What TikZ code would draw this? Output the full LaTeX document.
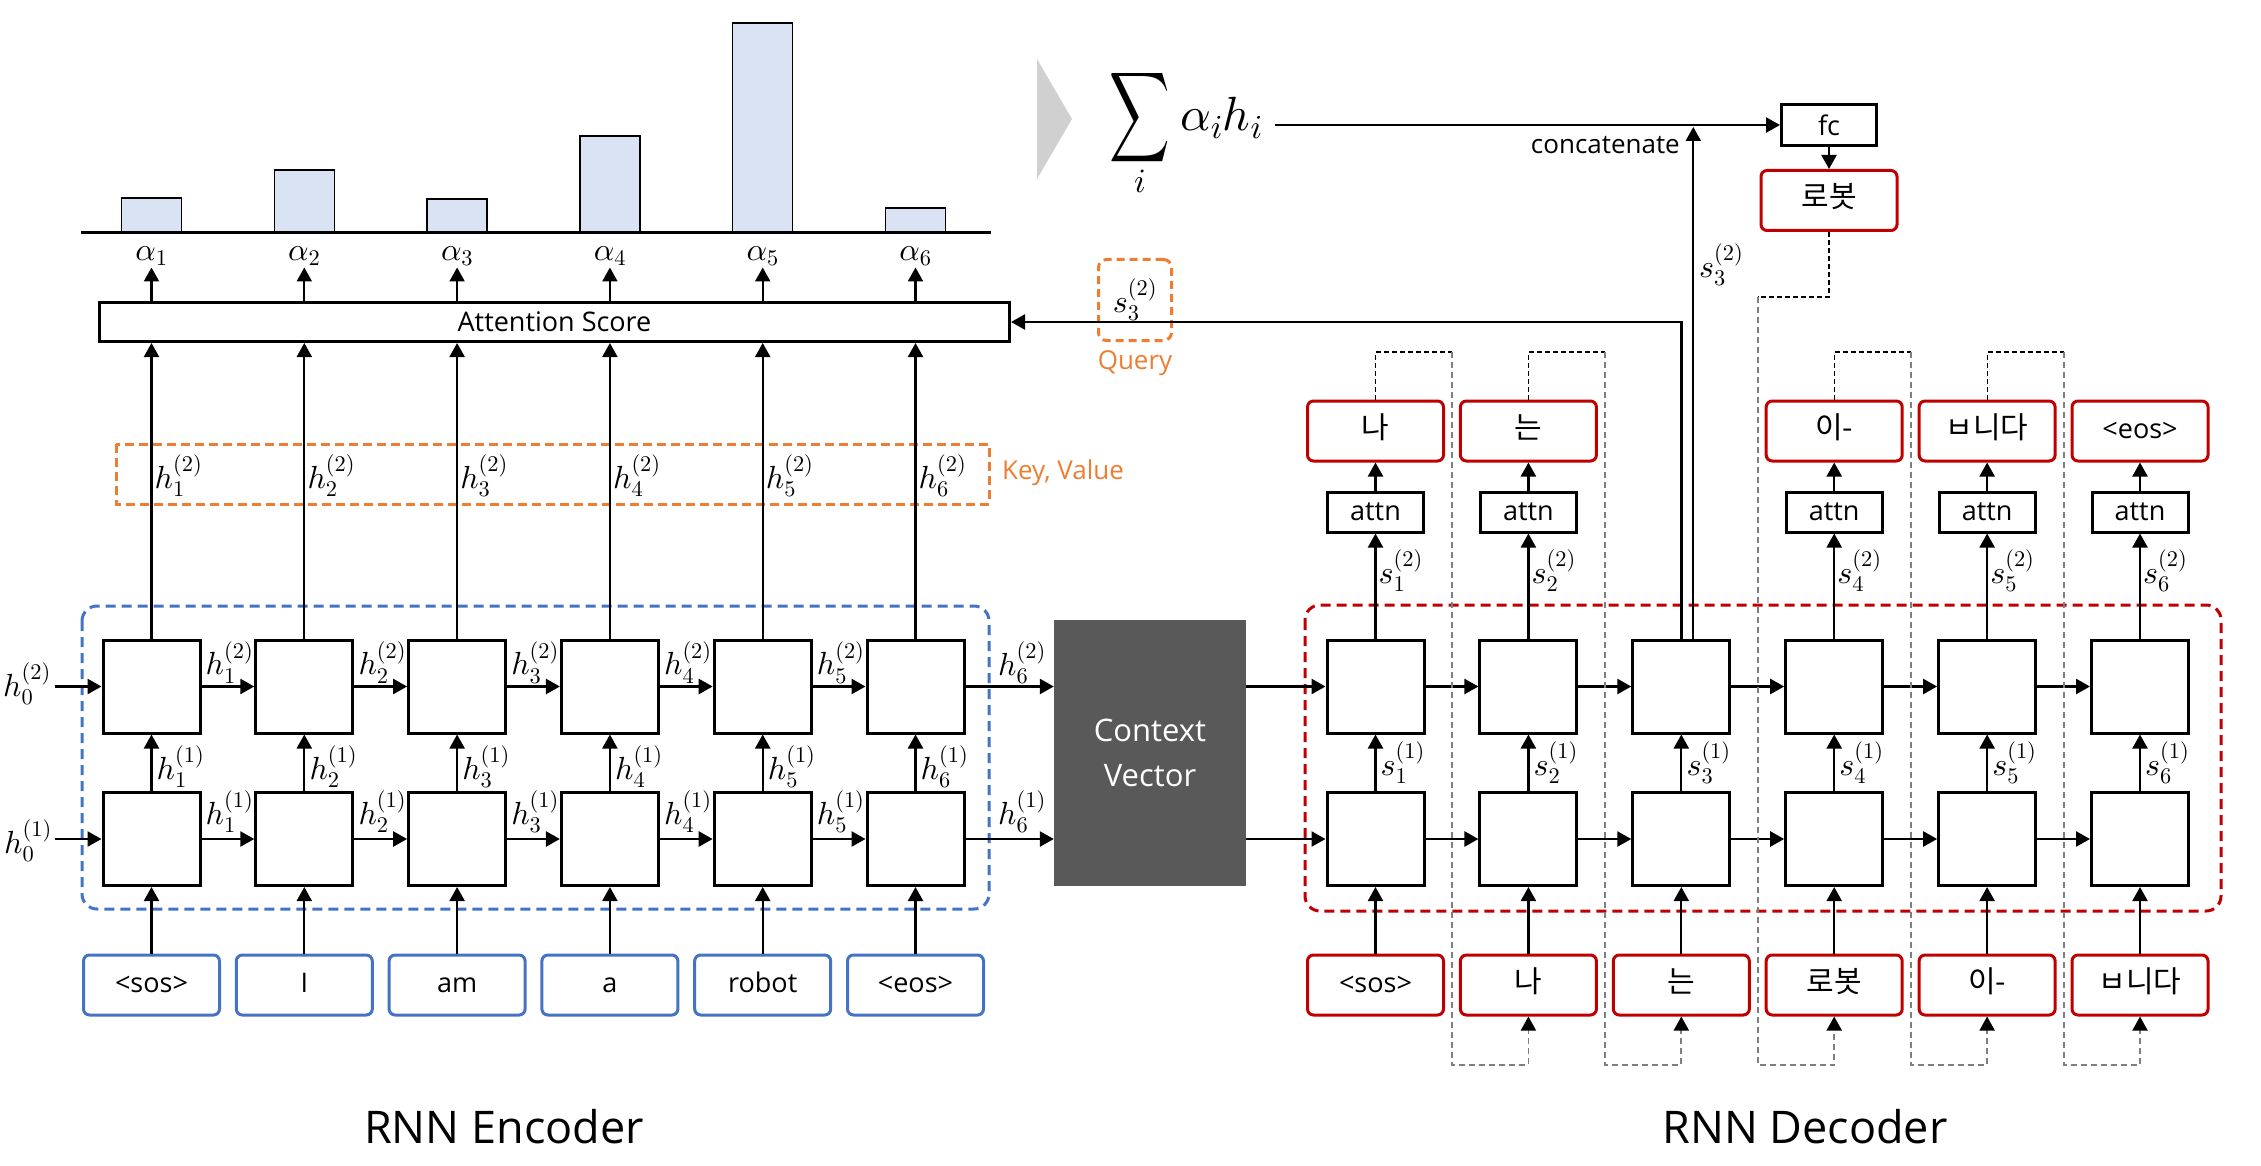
\documentclass[tikz,border=0pt]{standalone}
\DeclareFontShape{OT1}{cmr}{m}{n}{<->cmr10}{}
\DeclareFontShape{OML}{cmm}{m}{it}{<->cmmi10}{\skewchar\font'177}
\DeclareFontShape{OMS}{cmsy}{m}{n}{<->cmsy10}{\skewchar\font'60}
\DeclareFontShape{OMX}{cmex}{m}{n}{<->cmex10}{}
\usepackage[no-math]{fontspec}
\setmainfont{Open Sans}
\newfontfamily\kor{Noto Sans CJK KR}
\usepackage{graphicx}
\usetikzlibrary{arrows.meta}
\definecolor{encblue}{HTML}{4472C4}
\definecolor{decred}{HTML}{C00000}
\definecolor{keyorange}{HTML}{ED7D31}
\definecolor{barblue}{HTML}{DAE3F3}
\definecolor{ctxgray}{HTML}{595959}
\definecolor{chevgray}{HTML}{D0D0D0}
\definecolor{loopgray}{HTML}{7F7F7F}
\newcommand{\hk}[1]{{\kor\fontsize{30}{36}\selectfont #1}}
\newcommand{\ml}[1]{{\fontsize{32}{38}\selectfont$#1$}}
\tikzset{
	cell/.style={draw, fill=white, line width=3pt, minimum width=97pt, minimum height=93pt, inner sep=0pt},
	encword/.style={draw=encblue, fill=white, line width=3pt, rounded corners=6pt, minimum width=136pt, minimum height=60pt, inner sep=0pt, text height=21pt, text depth=6pt, font=\fontsize{27}{32}\selectfont},
	decword/.style={encword, draw=decred},
	attnbox/.style={draw, fill=white, line width=3pt, minimum width=96pt, minimum height=40pt, inner sep=0pt, font=\fontsize{27}{32}\selectfont},
	mlbl/.style={inner sep=0pt},
	harr/.style={->, line width=2.5pt},
	varr/.style={->, line width=2.2pt},
	loopblack/.style={line width=1.2pt, dash pattern=on 5pt off 3pt},
	loopgr/.style={draw=loopgray, line width=1.8pt, dash pattern=on 6pt off 4pt, -{Triangle[length=14pt, width=15pt, color=black]}}
}

\begin{document}
\begin{tikzpicture}[x=1pt, y=-1pt, >={Triangle[length=14pt, width=15pt]}]
	\useasboundingbox (0,0) rectangle (2261,1166);
	\fill [chevgray] (1037,59) -- (1072,119) -- (1037,179) -- cycle;
	\foreach \x/\t in {151.5/198, 304.3/170, 457.1/199, 609.9/136, 762.7/23, 915.5/208}
		\filldraw [fill=barblue, line width=1.5pt] (\x-30,232) rectangle (\x+30,\t);
	\draw [line width=3pt] (81,233) -- (991,233);
	\node [attnbox, minimum width=910pt, minimum height=39pt] (score) at (554.5,322) {Attention Score};
	\draw [keyorange, line width=3pt, dash pattern=on 9pt off 5pt] (116,444) rectangle (989,504);
	\node [anchor=west, inner sep=0pt, text=keyorange, font=\fontsize{26}{30}\selectfont] (kvtext) at (1002,473) {Key, Value};
	\draw [encblue, line width=3pt, dash pattern=on 10pt off 6pt, rounded corners=15pt] (82,606) rectangle (989,909);
	\draw [decred, line width=3pt, dash pattern=on 10pt off 6pt, rounded corners=15pt] (1305,605) rectangle (2221,911);

	\foreach \i/\x in {1/151.5, 2/304.3, 3/457.1, 4/609.9, 5/762.7, 6/915.5} {
		\node [cell] (et\i) at (\x,686.5) {};
		\node [cell] (eb\i) at (\x,839) {};
		\node [mlbl] (al\i) at (\x,256) {\ml{\alpha_\i}};
		\draw [varr] (et\i.north) -- (et\i.north |- score.south);
		\draw [varr, shorten >=2pt] (score.north -| al\i) -- (al\i.south);
		\draw [varr] (eb\i.north) -- (et\i.south);
		\node [mlbl, anchor=west] (kv\i) at (\x+3,476) {\ml{h_\i^{(2)}}};
		\node [mlbl, anchor=west] (hv\i) at (\x+5,767) {\ml{h_\i^{(1)}}};
	}
	\foreach \i/\x/\w in {1/151.5/<sos>, 2/304.3/I, 3/457.1/am, 4/609.9/a, 5/762.7/robot, 6/915.5/<eos>} {
		\node [encword] (ein\i) at (\x,985) {\w};
		\draw [varr] (ein\i.north) -- (eb\i.south);
	}
	\foreach \i/\j in {1/2, 2/3, 3/4, 4/5, 5/6} {
		\draw [harr] (et\i.east) -- (et\j.west);
		\draw [harr] (eb\i.east) -- (eb\j.west);
		\node [mlbl, anchor=south west] (ht\i) at ([xshift=4pt, yshift=3pt]et\i.east) {\ml{h_\i^{(2)}}};
		\node [mlbl, anchor=south west] (hb\i) at ([xshift=4pt, yshift=6pt]eb\i.east) {\ml{h_\i^{(1)}}};
	}
	\node [mlbl] (h0t) at (27,684) {\ml{h_0^{(2)}}};
	\node [mlbl] (h0b) at (28,841) {\ml{h_0^{(1)}}};
	\draw [harr] ([xshift=4pt]h0t.east |- et1.west) -- (et1.west);
	\draw [harr] ([xshift=3pt]h0b.east |- eb1.west) -- (eb1.west);

	\node [fill=ctxgray, text=white, minimum width=192pt, minimum height=266pt, align=center, font=\fontsize{31}{45}\selectfont] (ctx) at (1150,753) {Context\\Vector};
	\draw [harr] (et6.east) -- (et6.east -| ctx.west);
	\draw [harr] (eb6.east) -- (eb6.east -| ctx.west);
	\node [mlbl, anchor=south west] (ht6) at (998,684) {\ml{h_6^{(2)}}};
	\node [mlbl, anchor=south west] (hb6) at (998,833) {\ml{h_6^{(1)}}};

	\node [inner sep=0pt] (sumsym) at (1140,118) {\fontsize{42}{50}\selectfont\scalebox{1}[1.5]{$\displaystyle\sum$}};
	\node [inner sep=0pt] (sumidx) at (1140,181) {\fontsize{34}{40}\selectfont$i$};
	\node [inner sep=0pt, anchor=base west] (sumterm) at (1180,131) {\fontsize{48}{58}\selectfont$\alpha_i h_i$};
	\node [attnbox, minimum width=95pt, minimum height=41pt] (fc) at (1829,125) {fc};
	\node [decword] (fcout) at (1829,200.5) {\hk{로봇}};
	\draw [harr] ([xshift=12pt]sumterm.east |- fc.west) -- (fc.west);
	\draw [varr] (fc.south) -- (fcout.north);

	\foreach \i/\x in {1/1375.5, 2/1528.4, 3/1681.3, 4/1834.2, 5/1987.1, 6/2140} {
		\node [cell] (dt\i) at (\x,686.5) {};
		\node [cell] (db\i) at (\x,839) {};
		\draw [varr] (db\i.north) -- (dt\i.south);
		\node [mlbl, anchor=west] (sv\i) at (\x+5,763) {\ml{s_\i^{(1)}}};
	}
	\foreach \i/\x/\w in {1/1375.5/<sos>, 2/1528.4/\hk{나}, 3/1681.3/\hk{는}, 4/1834.2/\hk{로봇}, 5/1987.1/\hk{이-}, 6/2140/\hk{ㅂ니다}} {
		\node [decword] (din\i) at (\x,985) {\w};
		\draw [varr] (din\i.north) -- (db\i.south);
	}
	\foreach \i/\x/\w in {1/1375.5/\hk{나}, 2/1528.4/\hk{는}, 4/1834.2/\hk{이-}, 5/1987.1/\hk{ㅂ니다}, 6/2140/<eos>} {
		\node [attnbox] (att\i) at (\x,512) {attn};
		\node [decword] (dout\i) at (\x,431) {\w};
		\draw [varr] (dt\i.north) -- (att\i.south);
		\draw [varr] (att\i.north) -- (dout\i.south);
		\node [mlbl, anchor=west] (st\i) at (\x+3,571) {\ml{s_\i^{(2)}}};
	}
	\foreach \i/\j in {1/2, 2/3, 3/4, 4/5, 5/6} {
		\draw [harr] (dt\i.east) -- (dt\j.west);
		\draw [harr] (db\i.east) -- (db\j.west);
	}
	\draw [harr] (ctx.east |- dt1.west) -- (dt1.west);
	\draw [harr] (ctx.east |- db1.west) -- (db1.west);

	\node [draw=keyorange, line width=3pt, dash pattern=on 8pt off 5pt, rounded corners=8pt, minimum width=73pt, minimum height=81pt, inner sep=0pt] (query) at (1135,300) {\ml{s_3^{(2)}}};
	\node [text=keyorange, inner sep=0pt, font=\fontsize{26}{30}\selectfont] (qtext) at (1135,363) {Query};
	\draw [harr] (dt3.north) -- (dt3.north |- score.east) -- (score.east);
	\draw [varr, shorten >=2pt] ([xshift=12pt]dt3.north) -- ([xshift=12pt]dt3.north |- fc.west);
	\node [anchor=east, inner sep=0pt, font=\fontsize{26}{30}\selectfont] (cctext) at (1680,145) {concatenate};
	\node [mlbl, anchor=west] (s3up) at (1699,265) {\ml{s_3^{(2)}}};

	\coordinate (loopbot) at (0,1065);
	\foreach \k/\x/\n in {1/1375.5/2, 2/1528.4/3, 4/1834.2/5, 5/1987.1/6} {
		\draw [loopblack] (dout\k.north) -- (\x,352) -- (\x+76.5,352);
		\draw [loopgr] (\x+76.5,352) -- (\x+76.5,1065) -- (din\n.south |- loopbot) -- (din\n.south);
	}
	\draw [loopblack] (fcout.south) -- (1829,297) -- (1757.7,297);
	\draw [loopgr] (1757.7,297) -- (1757.7,1065) -- (din4.south |- loopbot) -- (din4.south);

	\node [font=\fontsize{45}{54}\selectfont] (enctitle) at (504,1127) {RNN Encoder};
	\node [font=\fontsize{45}{54}\selectfont] (dectitle) at (1805,1127) {RNN Decoder};
\end{tikzpicture}
\end{document}
